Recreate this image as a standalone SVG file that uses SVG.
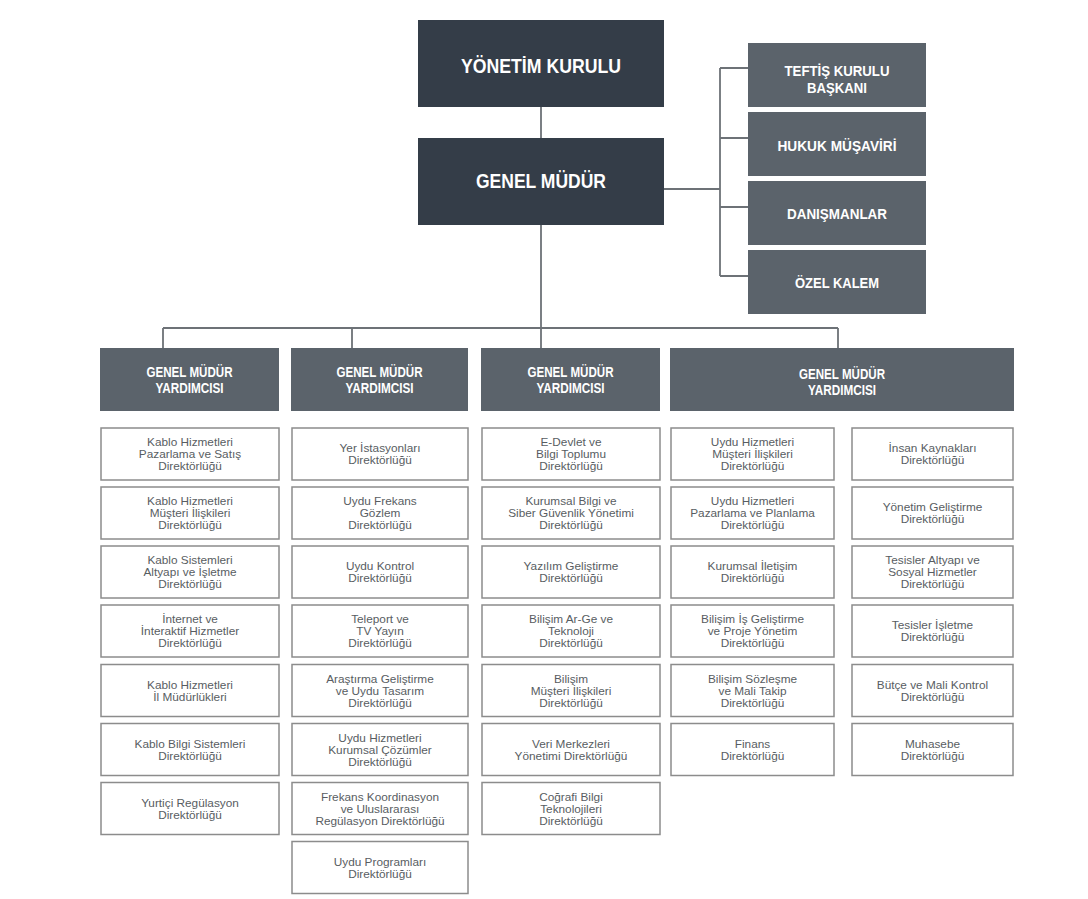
<svg xmlns="http://www.w3.org/2000/svg" width="1088" height="899" viewBox="0 0 1088 899">
<style>
.bg{fill:#ffffff}
.dark{fill:#343d48}
.mid{fill:#5b636b}
.sub{fill:#ffffff;stroke:#8c8c8c;stroke-width:1.5}
.conn{fill:none;stroke:#6d7277;stroke-width:1.8}
.t1{font-family:"Liberation Sans",Arial,sans-serif;font-weight:bold;font-size:20px;fill:#ffffff;text-anchor:middle}
.t2{font-family:"Liberation Sans",Arial,sans-serif;font-weight:bold;font-size:15px;fill:#ffffff;text-anchor:middle}
.t3{font-family:"Liberation Sans",Arial,sans-serif;font-weight:bold;font-size:14px;fill:#ffffff;text-anchor:middle}
.ts{font-family:"Liberation Sans",Arial,sans-serif;font-size:11.8px;fill:#585d62;text-anchor:middle}
</style>
<rect class="bg" x="0" y="0" width="1088" height="899"/>
<g id="connectors">
<path class="conn" d="M541 107V138"/>
<path class="conn" d="M541 225V348"/>
<path class="conn" d="M664 189H720"/>
<path class="conn" d="M720 68V276"/>
<path class="conn" d="M720 68H748M720 138H748M720 207H748M720 276H748"/>
<path class="conn" d="M163 328H838"/>
<path class="conn" d="M163 328V348M352 328V348M838 328V348"/>
</g>
<g id="yonetim-kurulu"><rect class="dark" x="418" y="20" width="246" height="87"/><text class="t1" x="541" y="73" textLength="160" lengthAdjust="spacingAndGlyphs">YÖNETİM KURULU</text></g>
<g id="genel-mudur"><rect class="dark" x="418" y="138" width="246" height="87"/><text class="t1" x="541" y="188" textLength="130" lengthAdjust="spacingAndGlyphs">GENEL MÜDÜR</text></g>
<g id="teftis"><rect class="mid" x="748" y="43" width="178" height="64"/><text class="t2" x="837" y="76" textLength="105" lengthAdjust="spacingAndGlyphs">TEFTİŞ KURULU</text><text class="t2" x="837" y="92.5" textLength="60" lengthAdjust="spacingAndGlyphs">BAŞKANI</text></g>
<g id="hukuk"><rect class="mid" x="748" y="112" width="178" height="64"/><text class="t2" x="837" y="150.5" textLength="119" lengthAdjust="spacingAndGlyphs">HUKUK MÜŞAVİRİ</text></g>
<g id="danismanlar"><rect class="mid" x="748" y="181" width="178" height="64"/><text class="t2" x="837" y="219" textLength="100" lengthAdjust="spacingAndGlyphs">DANIŞMANLAR</text></g>
<g id="ozel-kalem"><rect class="mid" x="748" y="250" width="178" height="64"/><text class="t2" x="837" y="288" textLength="84" lengthAdjust="spacingAndGlyphs">ÖZEL KALEM</text></g>
<g id="gmy1"><rect class="mid" x="100" y="348" width="179" height="63"/><text class="t3" x="189.5" y="376.5" textLength="86" lengthAdjust="spacingAndGlyphs">GENEL MÜDÜR</text><text class="t3" x="189.5" y="392.5" textLength="68" lengthAdjust="spacingAndGlyphs">YARDIMCISI</text></g>
<g id="gmy2"><rect class="mid" x="291" y="348" width="177" height="63"/><text class="t3" x="379.5" y="376.5" textLength="86" lengthAdjust="spacingAndGlyphs">GENEL MÜDÜR</text><text class="t3" x="379.5" y="392.5" textLength="68" lengthAdjust="spacingAndGlyphs">YARDIMCISI</text></g>
<g id="gmy3"><rect class="mid" x="481" y="348" width="179" height="63"/><text class="t3" x="570.5" y="376.5" textLength="86" lengthAdjust="spacingAndGlyphs">GENEL MÜDÜR</text><text class="t3" x="570.5" y="392.5" textLength="68" lengthAdjust="spacingAndGlyphs">YARDIMCISI</text></g>
<g id="gmy4"><rect class="mid" x="670" y="348" width="344" height="63"/><text class="t3" x="842" y="378.5" textLength="86" lengthAdjust="spacingAndGlyphs">GENEL MÜDÜR</text><text class="t3" x="842" y="394.5" textLength="68" lengthAdjust="spacingAndGlyphs">YARDIMCISI</text></g>

<g id="c1r1"><rect class="sub" x="101" y="428" width="178" height="52"/><text class="ts" x="190" y="446">Kablo Hizmetleri</text><text class="ts" x="190" y="458">Pazarlama ve Satış</text><text class="ts" x="190" y="470">Direktörlüğü</text></g>
<g id="c1r2"><rect class="sub" x="101" y="487" width="178" height="52"/><text class="ts" x="190" y="505">Kablo Hizmetleri</text><text class="ts" x="190" y="517">Müşteri İlişkileri</text><text class="ts" x="190" y="529">Direktörlüğü</text></g>
<g id="c1r3"><rect class="sub" x="101" y="546" width="178" height="52"/><text class="ts" x="190" y="564">Kablo Sistemleri</text><text class="ts" x="190" y="576">Altyapı ve İşletme</text><text class="ts" x="190" y="588">Direktörlüğü</text></g>
<g id="c1r4"><rect class="sub" x="101" y="605" width="178" height="52"/><text class="ts" x="190" y="623">İnternet ve</text><text class="ts" x="190" y="635">İnteraktif Hizmetler</text><text class="ts" x="190" y="647">Direktörlüğü</text></g>
<g id="c1r5"><rect class="sub" x="101" y="664.5" width="178" height="52"/><text class="ts" x="190" y="688.5">Kablo Hizmetleri</text><text class="ts" x="190" y="700.5">İl Müdürlükleri</text></g>
<g id="c1r6"><rect class="sub" x="101" y="723.5" width="178" height="52"/><text class="ts" x="190" y="747.5">Kablo Bilgi Sistemleri</text><text class="ts" x="190" y="759.5">Direktörlüğü</text></g>
<g id="c1r7"><rect class="sub" x="101" y="782.5" width="178" height="52"/><text class="ts" x="190" y="806.5">Yurtiçi Regülasyon</text><text class="ts" x="190" y="818.5">Direktörlüğü</text></g>

<g id="c2r1"><rect class="sub" x="292" y="428" width="176" height="52"/><text class="ts" x="380" y="452">Yer İstasyonları</text><text class="ts" x="380" y="464">Direktörlüğü</text></g>
<g id="c2r2"><rect class="sub" x="292" y="487" width="176" height="52"/><text class="ts" x="380" y="505">Uydu Frekans</text><text class="ts" x="380" y="517">Gözlem</text><text class="ts" x="380" y="529">Direktörlüğü</text></g>
<g id="c2r3"><rect class="sub" x="292" y="546" width="176" height="52"/><text class="ts" x="380" y="570">Uydu Kontrol</text><text class="ts" x="380" y="582">Direktörlüğü</text></g>
<g id="c2r4"><rect class="sub" x="292" y="605" width="176" height="52"/><text class="ts" x="380" y="623">Teleport ve</text><text class="ts" x="380" y="635">TV Yayın</text><text class="ts" x="380" y="647">Direktörlüğü</text></g>
<g id="c2r5"><rect class="sub" x="292" y="664.5" width="176" height="52"/><text class="ts" x="380" y="682.5">Araştırma Geliştirme</text><text class="ts" x="380" y="694.5">ve Uydu Tasarım</text><text class="ts" x="380" y="706.5">Direktörlüğü</text></g>
<g id="c2r6"><rect class="sub" x="292" y="723.5" width="176" height="52"/><text class="ts" x="380" y="741.5">Uydu Hizmetleri</text><text class="ts" x="380" y="753.5">Kurumsal Çözümler</text><text class="ts" x="380" y="765.5">Direktörlüğü</text></g>
<g id="c2r7"><rect class="sub" x="292" y="782.5" width="176" height="52"/><text class="ts" x="380" y="800.5">Frekans Koordinasyon</text><text class="ts" x="380" y="812.5">ve Uluslararası</text><text class="ts" x="380" y="824.5">Regülasyon Direktörlüğü</text></g>
<g id="c2r8"><rect class="sub" x="292" y="841.5" width="176" height="52"/><text class="ts" x="380" y="865.5">Uydu Programları</text><text class="ts" x="380" y="877.5">Direktörlüğü</text></g>

<g id="c3r1"><rect class="sub" x="482" y="428" width="178" height="52"/><text class="ts" x="571" y="446">E-Devlet ve</text><text class="ts" x="571" y="458">Bilgi Toplumu</text><text class="ts" x="571" y="470">Direktörlüğü</text></g>
<g id="c3r2"><rect class="sub" x="482" y="487" width="178" height="52"/><text class="ts" x="571" y="505">Kurumsal Bilgi ve</text><text class="ts" x="571" y="517">Siber Güvenlik Yönetimi</text><text class="ts" x="571" y="529">Direktörlüğü</text></g>
<g id="c3r3"><rect class="sub" x="482" y="546" width="178" height="52"/><text class="ts" x="571" y="570">Yazılım Geliştirme</text><text class="ts" x="571" y="582">Direktörlüğü</text></g>
<g id="c3r4"><rect class="sub" x="482" y="605" width="178" height="52"/><text class="ts" x="571" y="623">Bilişim Ar-Ge ve</text><text class="ts" x="571" y="635">Teknoloji</text><text class="ts" x="571" y="647">Direktörlüğü</text></g>
<g id="c3r5"><rect class="sub" x="482" y="664.5" width="178" height="52"/><text class="ts" x="571" y="682.5">Bilişim</text><text class="ts" x="571" y="694.5">Müşteri İlişkileri</text><text class="ts" x="571" y="706.5">Direktörlüğü</text></g>
<g id="c3r6"><rect class="sub" x="482" y="723.5" width="178" height="52"/><text class="ts" x="571" y="747.5">Veri Merkezleri</text><text class="ts" x="571" y="759.5">Yönetimi Direktörlüğü</text></g>
<g id="c3r7"><rect class="sub" x="482" y="782.5" width="178" height="52"/><text class="ts" x="571" y="800.5">Coğrafi Bilgi</text><text class="ts" x="571" y="812.5">Teknolojileri</text><text class="ts" x="571" y="824.5">Direktörlüğü</text></g>

<g id="c4ar1"><rect class="sub" x="671" y="428" width="163" height="52"/><text class="ts" x="752.5" y="446">Uydu Hizmetleri</text><text class="ts" x="752.5" y="458">Müşteri İlişkileri</text><text class="ts" x="752.5" y="470">Direktörlüğü</text></g>
<g id="c4ar2"><rect class="sub" x="671" y="487" width="163" height="52"/><text class="ts" x="752.5" y="505">Uydu Hizmetleri</text><text class="ts" x="752.5" y="517">Pazarlama ve Planlama</text><text class="ts" x="752.5" y="529">Direktörlüğü</text></g>
<g id="c4ar3"><rect class="sub" x="671" y="546" width="163" height="52"/><text class="ts" x="752.5" y="570">Kurumsal İletişim</text><text class="ts" x="752.5" y="582">Direktörlüğü</text></g>
<g id="c4ar4"><rect class="sub" x="671" y="605" width="163" height="52"/><text class="ts" x="752.5" y="623">Bilişim İş Geliştirme</text><text class="ts" x="752.5" y="635">ve Proje Yönetim</text><text class="ts" x="752.5" y="647">Direktörlüğü</text></g>
<g id="c4ar5"><rect class="sub" x="671" y="664.5" width="163" height="52"/><text class="ts" x="752.5" y="682.5">Bilişim Sözleşme</text><text class="ts" x="752.5" y="694.5">ve Mali Takip</text><text class="ts" x="752.5" y="706.5">Direktörlüğü</text></g>
<g id="c4ar6"><rect class="sub" x="671" y="723.5" width="163" height="52"/><text class="ts" x="752.5" y="747.5">Finans</text><text class="ts" x="752.5" y="759.5">Direktörlüğü</text></g>

<g id="c4br1"><rect class="sub" x="852" y="428" width="161" height="52"/><text class="ts" x="932.5" y="452">İnsan Kaynakları</text><text class="ts" x="932.5" y="464">Direktörlüğü</text></g>
<g id="c4br2"><rect class="sub" x="852" y="487" width="161" height="52"/><text class="ts" x="932.5" y="511">Yönetim Geliştirme</text><text class="ts" x="932.5" y="523">Direktörlüğü</text></g>
<g id="c4br3"><rect class="sub" x="852" y="546" width="161" height="52"/><text class="ts" x="932.5" y="564">Tesisler Altyapı ve</text><text class="ts" x="932.5" y="576">Sosyal Hizmetler</text><text class="ts" x="932.5" y="588">Direktörlüğü</text></g>
<g id="c4br4"><rect class="sub" x="852" y="605" width="161" height="52"/><text class="ts" x="932.5" y="629">Tesisler İşletme</text><text class="ts" x="932.5" y="641">Direktörlüğü</text></g>
<g id="c4br5"><rect class="sub" x="852" y="664.5" width="161" height="52"/><text class="ts" x="932.5" y="688.5">Bütçe ve Mali Kontrol</text><text class="ts" x="932.5" y="700.5">Direktörlüğü</text></g>
<g id="c4br6"><rect class="sub" x="852" y="723.5" width="161" height="52"/><text class="ts" x="932.5" y="747.5">Muhasebe</text><text class="ts" x="932.5" y="759.5">Direktörlüğü</text></g>
</svg>
